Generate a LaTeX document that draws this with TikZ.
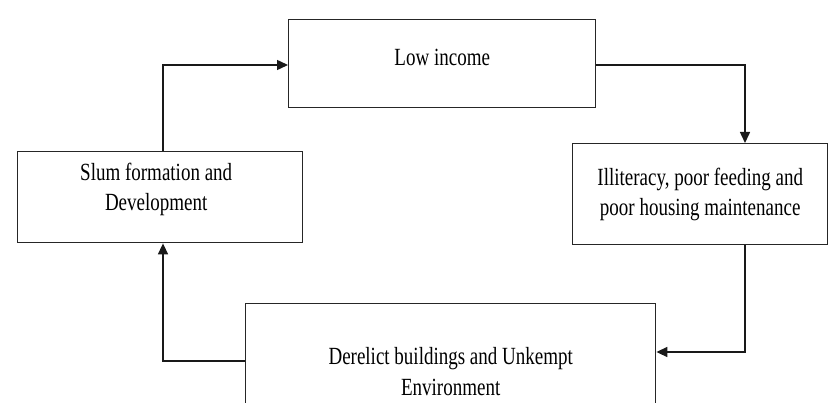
\documentclass[tikz,border=0pt]{standalone}
\usepackage{fontspec}
\usepackage{graphicx}
\setmainfont{Liberation Serif}
\usetikzlibrary{arrows.meta}
\newcommand\boxtext[1]{\scalebox{1}[1.3]{\fontsize{19}{23.5}\selectfont\begin{tabular}{@{}c@{}}#1\end{tabular}}}
\tikzset{
  stagebox/.style={draw=black!85, line width=1.4pt, fill=white, inner sep=0pt, anchor=north west},
  conn/.style={line width=1.5pt, draw=black!90, -{Triangle[length=11pt,width=10pt]}}
}
\begin{document}
\begin{tikzpicture}[x=1pt,y=-1pt]
\useasboundingbox (0,0) rectangle (829,403);
\fill[white] (0,0) rectangle (829,403);
\clip (0,0) rectangle (829,403);
% boxes (positioned by top-left corner, sized by minimum dimensions)
\node[stagebox, minimum width=307pt, minimum height=88pt] (low) at (288,19) {};
\node at (low.center) [yshift=4pt] {\boxtext{Low income}};
\node[stagebox, minimum width=285pt, minimum height=91pt] (slum) at (17,151) {};
\node at (slum.center) [xshift=-4pt, yshift=8pt] {\boxtext{Slum formation and\\Development}};
\node[stagebox, minimum width=255pt, minimum height=101pt] (ill) at (572,143) {};
\node at (ill.center) {\boxtext{Illiteracy, poor feeding and\\poor housing maintenance}};
\node[stagebox, minimum width=410pt, minimum height=140pt] (der) at (245,303) {};
\node at (der.center) {\boxtext{Derelict buildings and Unkempt\\Environment}};
% route corners
\coordinate (c0) at (163,65);
\coordinate (c1) at (745,65);
\coordinate (c2) at (745,352);
\coordinate (c3) at (163,361);
% connectors
\draw[conn] (c0 |- slum.north) -- (c0) -- (c0 -| low.west);
\draw[conn] (c1 -| low.east) -- (c1) -- (c1 |- ill.north);
\draw[conn] (c2 |- ill.south) -- (c2) -- (c2 -| der.east);
\draw[conn] (c3 -| der.west) -- (c3) -- (c3 |- slum.south);
\end{tikzpicture}
\end{document}
